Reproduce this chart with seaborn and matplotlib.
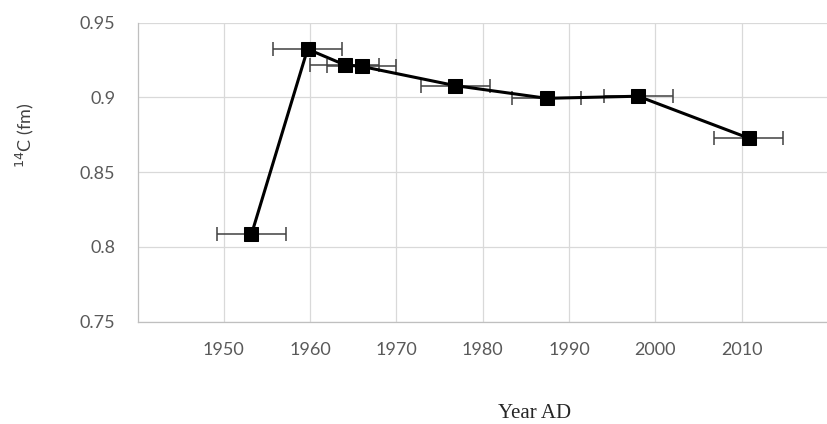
import numpy as np
import pandas as pd
import matplotlib
matplotlib.use("Agg")
import matplotlib.pyplot as plt
import seaborn as sns

# values
years = [1953.2, 1959.7, 1964.0, 1966.0, 1976.8, 1987.4, 1998.0, 2010.8]
fm = [0.8083, 0.9322, 0.9217, 0.9206, 0.9078, 0.8993, 0.9007, 0.8727]
year_err = [4, 4, 4, 4, 4, 4, 4, 4]
x_ticks = [1950, 1960, 1970, 1980, 1990, 2000, 2010]
y_ticks = [0.75, 0.8, 0.85, 0.9, 0.95]
y_tick_labels = ["0.75", "0.8", "0.85", "0.9", "0.95"]

df = pd.DataFrame({"year": years, "fm": fm, "err": year_err})

sns.set_style("white")
plt.rcParams["font.family"] = ["Lato", "DejaVu Sans"]

fig = plt.figure(figsize=(8.28, 4.24), dpi=100)
ax = fig.add_axes([0.1661, 0.2417, 0.8339, 0.7052])

# horizontal error bars (drawn first, the line sits on top)
ax.errorbar(df["year"], df["fm"], xerr=df["err"], fmt="none",
            ecolor="#404040", elinewidth=1.1, capsize=5.2, capthick=1.1, zorder=2)

sns.lineplot(data=df, x="year", y="fm", sort=False, color="black",
             linewidth=2.2, marker="s", markersize=9.5, markeredgecolor="black",
             markerfacecolor="black", ax=ax, zorder=3)

ax.set_xlim(1940, 2019.4)
ax.set_ylim(0.75, 0.95)
ax.set_xticks(x_ticks)
ax.set_xticklabels([str(t) for t in x_ticks])
ax.set_yticks(y_ticks)
ax.set_yticklabels(y_tick_labels)

# vertical gridlines every 10 years, horizontal every 0.05
ax.set_xticks([1940, 2020], minor=True)
ax.grid(True, which="major", color="#d9d9d9", linewidth=0.9)
ax.set_axisbelow(True)

for side in ["top", "right"]:
    ax.spines[side].set_visible(False)
for side in ["left", "bottom"]:
    ax.spines[side].set_color("#bfbfbf")
    ax.spines[side].set_linewidth(0.9)

ax.tick_params(axis="both", length=0, labelsize=13, labelcolor="#595959")
ax.tick_params(axis="x", pad=15)
ax.tick_params(axis="y", pad=16)

ax.set_xlabel("")
ax.set_ylabel("")
fig.text(0.030, 1 - 135 / 424, "$^{14}$C (fm)", rotation=90, ha="center",
         va="center", fontsize=13, color="#404040")
fig.text(535 / 828, 1 - 413 / 424, "Year AD", ha="center", va="center",
         fontsize=15, family=["Liberation Serif", "DejaVu Serif"], color="#262626")

fig.savefig("out.png", dpi=100)
plt.close(fig)
